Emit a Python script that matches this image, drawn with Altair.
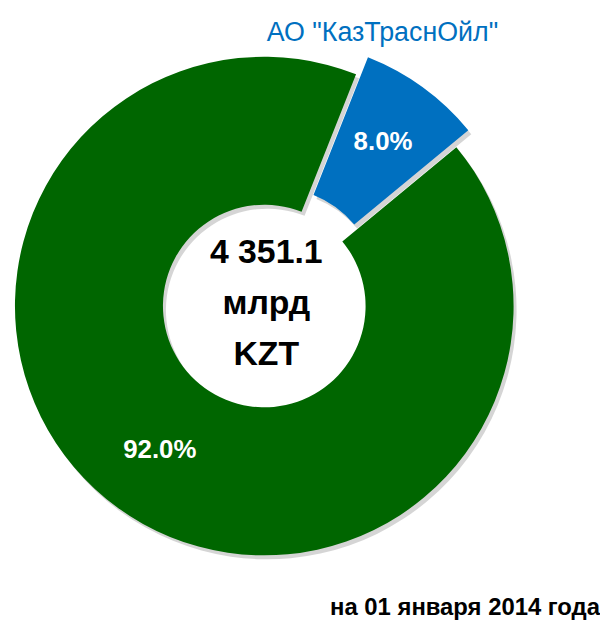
import math
import altair as alt
import pandas as pd

categories = ['АО "КазТраснОйл"', 'Прочие']
shares = [8.0, 92.0]
pct_labels = ["8.0%", "92.0%"]
colors = ["#0070C0", "#006600"]
center_lines = ["4 351.1", "млрд", "KZT"]
title_text = 'АО "КазТраснОйл"'
date_text = "на 01 января 2014 года"

FONT = "Liberation Sans, Arial"

df = pd.DataFrame({"cat": categories, "share": shares, "lbl": pct_labels, "order": [0, 1]})

CX, CY = 258, 298
R_OUT, R_IN = 251, 102
EX, EY = 12, -17

start = math.radians(21.6)
theta_scale = alt.Scale(domain=[0, 100], range=[start, start + 2 * math.pi])
color_scale = alt.Scale(domain=categories, range=colors)

base = alt.Chart(df).transform_window(
    cum="sum(share)", sort=[alt.SortField("order")], frame=[None, 0]
).transform_calculate(
    v0="datum.cum - datum.share", v1="datum.cum", mid="datum.cum - datum.share / 2"
)

def arc_layer(order, dx, dy, shadow=False):
    b = base.transform_filter(alt.datum.order == order)
    if shadow:
        m = b.mark_arc(outerRadius=R_OUT, innerRadius=R_IN, color="#888888", opacity=0.35)
        enc = dict()
    else:
        m = b.mark_arc(outerRadius=R_OUT, innerRadius=R_IN)
        enc = dict(color=alt.Color("cat:N", scale=color_scale, legend=None))
    return m.encode(
        theta=alt.Theta("v0:Q", scale=theta_scale, stack=None),
        theta2="v1:Q",
        x=alt.value(CX + dx),
        y=alt.value(CY + dy),
        **enc,
    )

def label_layer(order, dx, dy, r):
    b = base.transform_filter(alt.datum.order == order)
    return b.mark_text(
        font=FONT, fontSize=26, fontWeight="bold", color="white",
        align="center", baseline="middle",
    ).encode(
        theta=alt.Theta("mid:Q", scale=theta_scale, stack=None),
        radius=alt.value(r),
        x=alt.value(CX + dx),
        y=alt.value(CY + dy),
        text="lbl:N",
    )

center_df = pd.DataFrame({"t": ["\n".join(center_lines)]})
center = alt.Chart(center_df).mark_text(
    font=FONT, fontSize=34, fontWeight="bold", color="black",
    align="center", baseline="middle", lineBreak="\n", lineHeight=51,
).encode(text="t:N", x=alt.value(CX + 2), y=alt.value(245))

title_df = pd.DataFrame({"t": [title_text]})
title = alt.Chart(title_df).mark_text(
    font=FONT, fontSize=27, color="#0070C0", align="center", baseline="middle",
).encode(text="t:N", x=alt.value(377), y=alt.value(23))

date_df = pd.DataFrame({"t": [date_text]})
date = alt.Chart(date_df).mark_text(
    font=FONT, fontSize=24, fontWeight="bold", color="black", align="right", baseline="middle",
).encode(text="t:N", x=alt.value(596), y=alt.value(602))

chart = alt.layer(
    arc_layer(1, 3, 4, shadow=True),
    arc_layer(1, 0, 0),
    arc_layer(0, EX + 3, EY + 4, shadow=True),
    arc_layer(0, EX, EY),
    label_layer(1, 0, 0, 179),
    label_layer(0, EX, EY, 183),
    center,
    title,
    date,
).properties(
    width=596, height=613, padding=0, autosize=alt.AutoSizeParams(type="none")
).configure_view(stroke=None)

chart.save("out.html", embed_options={"renderer": "svg", "actions": False})
